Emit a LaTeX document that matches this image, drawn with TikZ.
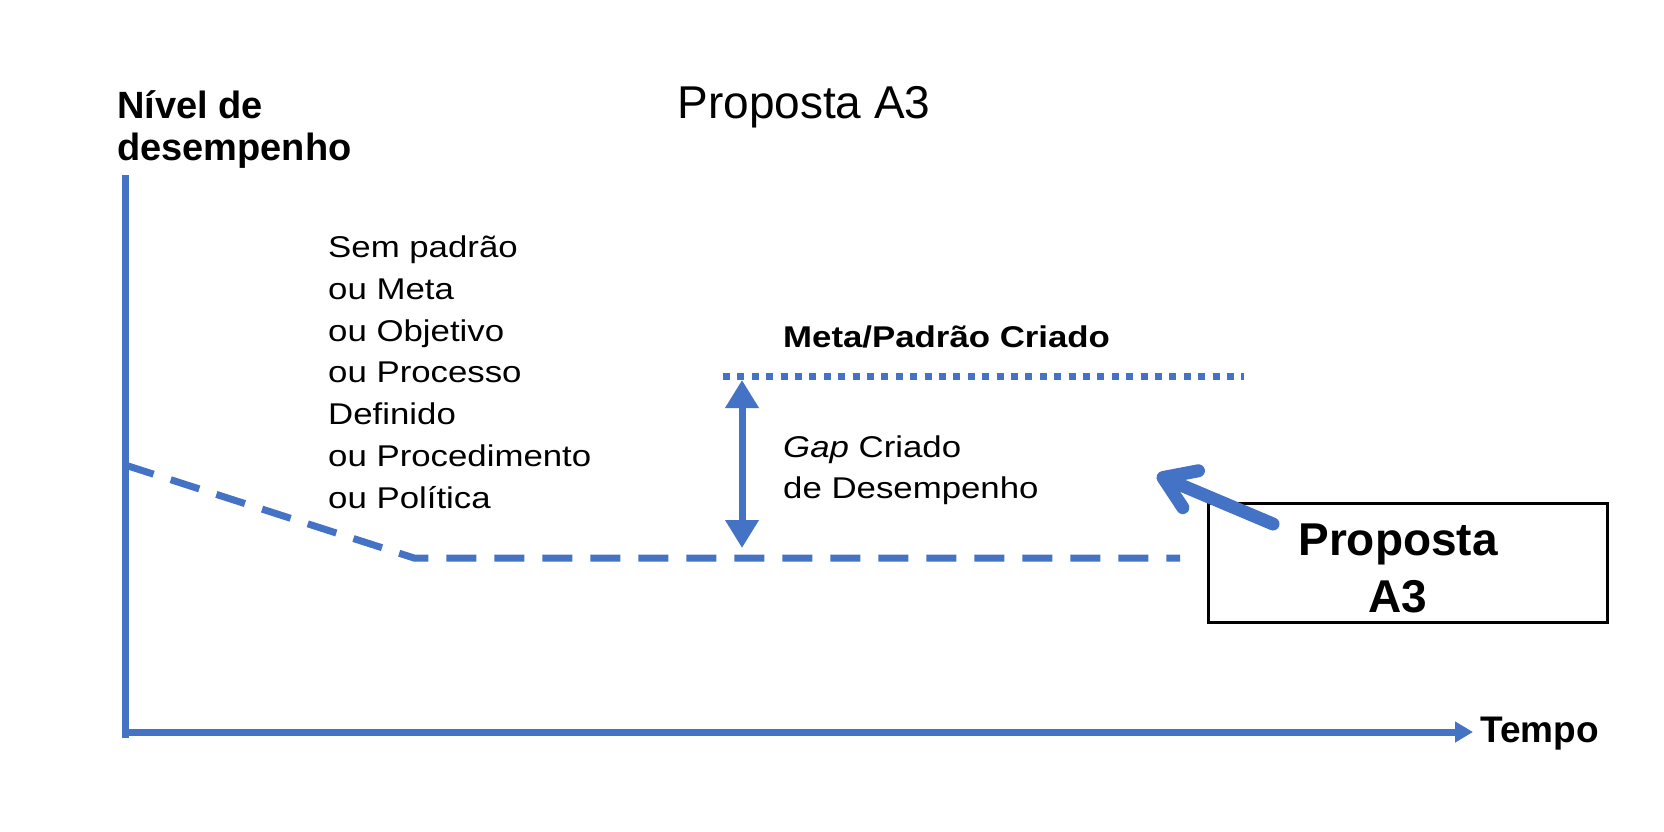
\documentclass[tikz,border=0pt]{standalone}
\usepackage{fontspec}
\setmainfont{Liberation Sans}
\newfontfamily\widesans[FakeStretch=1.16]{Liberation Sans}
\usetikzlibrary{arrows.meta}
\definecolor{axblue}{RGB}{68,114,196}
\tikzset{
  axisline/.style={draw=axblue, line width=7pt},
  dashline/.style={draw=axblue, line width=7pt, dash pattern=on 30pt off 18pt},
  dotline/.style={draw=axblue, line width=7pt, dash pattern=on 7pt off 7.4pt},
  gaparrow/.style={draw=axblue, line width=7pt, {Triangle[length=28pt,width=32pt]}-{Triangle[length=28pt,width=32pt]}},
  pointer/.style={draw=axblue, line width=13pt, line cap=round, -{Straight Barb[round,length=30pt,width=40pt]}},
  widetxt/.style={inner sep=0pt, align=left, anchor=base west, font=\widesans\fontsize{30}{41.7}\selectfont},
  boldtxt/.style={inner sep=0pt, align=left, anchor=base west, font=\bfseries\fontsize{38}{42}\selectfont}
}
\begin{document}
\begin{tikzpicture}[x=1pt,y=-1pt]
\useasboundingbox[fill=white] (0,0) rectangle (1664,832);

% axes
\coordinate (ytop) at (125,175);
\coordinate (ybot) at (125,738);
\coordinate (xorig) at (122,732);
\coordinate (xend) at (1473,732);
\draw[axisline] (ytop) -- (ybot);
\draw[axisline, -{Triangle[length=18pt,width=20pt]}] (xorig) -- (xend);

% texts (anchor base = baseline of the last line)
\node[boldtxt, font=\bfseries\fontsize{37}{42}\selectfont] (tempo) at (1480,742) {Tempo};
\node[boldtxt] (ylab) at (117,160) {Nível de\\desempenho};
\node[inner sep=0pt, anchor=base, font=\fontsize{46}{54}\selectfont] (title) at (804,118) {Proposta A3};

\node[widetxt] (sem) at (328,508) {Sem padrão\\ou Meta\\ou Objetivo\\ou Processo\\Definido\\ou Procedimento\\ou Política};

\node[inner sep=0pt, anchor=base west, font=\widesans\bfseries\fontsize{30}{36}\selectfont] (meta) at (783,347) {Meta/Padrão Criado};

% lines
\coordinate (d1) at (125,465);
\coordinate (d2) at (414,558);
\coordinate (d3) at (1180,558);
\draw[dashline] (d1) -- (d2) -- (d3);

\coordinate (m1) at (723,376);
\coordinate (m2) at (1244,376);
\draw[dotline] (m1) -- (m2);

\coordinate (gtop) at (742,380);
\coordinate (gbot) at (742,548);
\draw[gaparrow] (gtop) -- (gbot);

\node[widetxt, font=\widesans\fontsize{30}{41}\selectfont] (gap) at (783,498) {\textit{Gap} Criado\\de Desempenho};

% box
\coordinate (bx1) at (1208,503);
\coordinate (bx2) at (1607,622);
\draw[line width=3pt] (bx1) rectangle (bx2);
\node[inner sep=0pt, anchor=base, align=center, font=\bfseries\fontsize{46}{57}\selectfont] (boxtxt) at (1398,612) {Proposta\\A3};

\coordinate (ptail) at (1273,524);
\coordinate (phead) at (1157,475);
\draw[pointer] (ptail) -- (phead);
\end{tikzpicture}
\end{document}
